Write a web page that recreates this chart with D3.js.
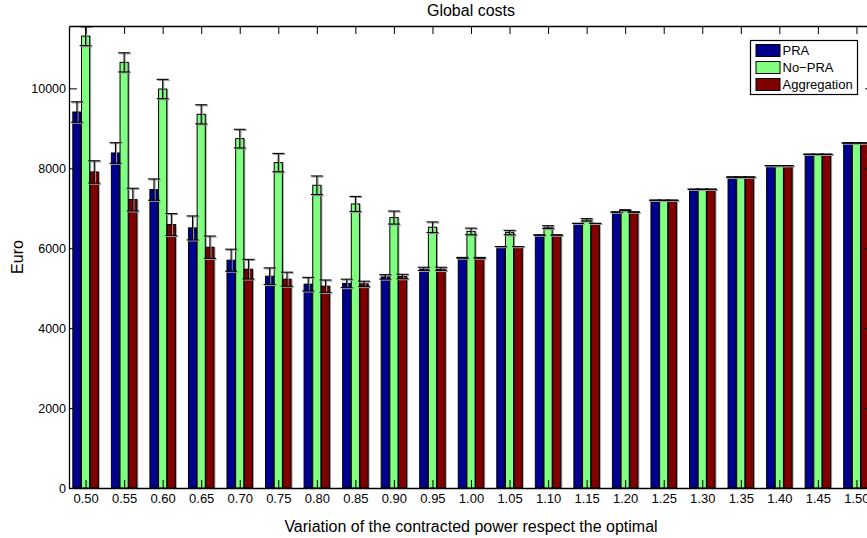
<!DOCTYPE html>
<html>
<head>
<meta charset="utf-8">
<script src="https://cdn.jsdelivr.net/npm/d3@7"></script>
<style>
  html, body { margin: 0; padding: 0; background: #fff; }
  svg { display: block; font-family: "Liberation Sans", Arial, Helvetica, sans-serif; }
</style>
</head>
<body>
<svg id="chart" width="867" height="538"></svg>
<script>
// ---- data ----
const categories = ["0.50","0.55","0.60","0.65","0.70","0.75","0.80","0.85","0.90","0.95","1.00",
                    "1.05","1.10","1.15","1.20","1.25","1.30","1.35","1.40","1.45","1.50"];
const seriesNames = ["PRA", "No\u2212PRA", "Aggregation"];
const praValues   = [9408, 8383, 7467, 6508, 5700, 5300, 5100, 5120, 5283, 5483, 5760, 6042, 6330, 6620, 6905, 7200, 7475, 7780, 8067, 8350, 8633];
const noPraValues = [11308, 10650, 9983, 9350, 8742, 8142, 7575, 7108, 6767, 6525, 6420, 6392, 6528, 6710, 6952, 7200, 7475, 7780, 8067, 8350, 8633];
const aggValues   = [7908, 7217, 6592, 6025, 5475, 5225, 5050, 5108, 5292, 5483, 5760, 6042, 6330, 6620, 6905, 7200, 7475, 7780, 8067, 8350, 8633];
const praErr      = [255, 258, 267, 300, 275, 208, 170, 105, 55, 40, 10, 0, 0, 0, 0, 0, 0, 0, 0, 0, 0];
const noPraErr    = [240, 240, 242, 240, 233, 230, 233, 188, 163, 133, 83, 55, 35, 30, 10, 0, 0, 0, 0, 0, 0];
const aggErr      = [280, 283, 275, 280, 245, 175, 155, 67, 55, 40, 10, 0, 0, 0, 0, 0, 0, 0, 0, 0, 0];
const yTicks = [0, 2000, 4000, 6000, 8000, 10000];
const colors = ["#00008f", "#80ff80", "#800000"];
const title = "Global costs";
const xLabel = "Variation of the contracted power respect the optimal";
const yLabel = "Euro";

const values = [praValues, noPraValues, aggValues];
const errors = [praErr, noPraErr, aggErr];

// ---- layout ----
const svg = d3.select("#chart");
const pLeft = 69, pRight = 873, pTop = 26, pBottom = 488;

const x = d3.scalePoint().domain(categories).range([pLeft, pRight]).padding(0.43);
const sub = d3.scaleBand().domain(d3.range(3)).range([-12.75, 12.75]).paddingInner(0.06);
const y = d3.scaleLinear().domain([0, 11560]).range([pBottom, pTop]);

// bars
const g = svg.append("g");
categories.forEach((c, i) => {
  for (let s = 0; s < 3; s++) {
    const bx = x(c) + sub(s);
    const bw = sub.bandwidth();
    const v = values[s][i];
    g.append("rect")
      .attr("x", bx + 1.5).attr("y", y(v))
      .attr("width", bw).attr("height", y(0) - y(v))
      .attr("fill", "#8a8a8a").attr("opacity", 0.75);
    g.append("rect")
      .attr("x", bx).attr("y", y(v))
      .attr("width", bw).attr("height", y(0) - y(v))
      .attr("fill", colors[s]).attr("stroke", "#000").attr("stroke-width", 1);
  }
});

// error bars
const eg = svg.append("g");
categories.forEach((c, i) => {
  for (let s = 0; s < 3; s++) {
    const cx = x(c) + sub(s) + sub.bandwidth() / 2;
    const v = values[s][i], e = errors[s][i];
    const hi = y(v + e), lo = y(v - e);
    const cw = 6;
    [["#999", 1, 1.2], ["#000", 0, 1.1]].forEach(([col, off, sw]) => {
      eg.append("line").attr("x1", cx + off).attr("x2", cx + off)
        .attr("y1", hi + off).attr("y2", lo + off).attr("stroke", col).attr("stroke-width", sw);
      eg.append("line").attr("x1", cx - cw + off).attr("x2", cx + cw + off)
        .attr("y1", hi + off).attr("y2", hi + off).attr("stroke", col).attr("stroke-width", sw);
      eg.append("line").attr("x1", cx - cw + off).attr("x2", cx + cw + off)
        .attr("y1", lo + off).attr("y2", lo + off).attr("stroke", col).attr("stroke-width", sw);
    });
  }
});

// axes
const axStyle = (size) => sel => {
  sel.select(".domain").attr("stroke", "#000").attr("stroke-width", 1.3);
  sel.selectAll(".tick line").attr("stroke", "#000").attr("stroke-width", 1);
  sel.selectAll(".tick text").attr("fill", "#000")
    .style("font-family", '"Liberation Sans", Arial, sans-serif').style("font-size", size);
};

svg.append("g").attr("transform", `translate(0,${pBottom})`)
  .call(d3.axisBottom(x).tickSizeInner(-8).tickSizeOuter(0).tickPadding(6))
  .call(axStyle("13px"));
svg.append("g").attr("transform", `translate(0,${pTop})`)
  .call(d3.axisTop(x).tickSizeInner(-8).tickSizeOuter(0).tickFormat(""))
  .call(axStyle("13px"));
svg.append("g").attr("transform", `translate(${pLeft},0)`)
  .call(d3.axisLeft(y).tickValues(yTicks).tickFormat(d3.format("d")).tickSizeInner(-8).tickSizeOuter(0).tickPadding(3))
  .call(axStyle("12.5px"));
svg.append("g").attr("transform", `translate(${pRight},0)`)
  .call(d3.axisRight(y).tickValues(yTicks).tickFormat("").tickSizeInner(-8).tickSizeOuter(0))
  .call(axStyle("12.5px"));

// titles
svg.append("text").attr("x", (pLeft + pRight) / 2).attr("y", 15.5)
  .attr("text-anchor", "middle").style("font-size", "16px").text(title);
svg.append("text").attr("x", (pLeft + pRight) / 2).attr("y", 531.5)
  .attr("text-anchor", "middle").style("font-size", "16px").text(xLabel);
svg.append("text").attr("transform", `translate(23,${(pTop + pBottom) / 2}) rotate(-90)`)
  .attr("text-anchor", "middle").style("font-size", "16px").text(yLabel);

// legend
const lg = svg.append("g");
lg.append("rect").attr("x", 750.5).attr("y", 40.5).attr("width", 107).attr("height", 54)
  .attr("fill", "#fff").attr("stroke", "#000").attr("stroke-width", 1.2);
seriesNames.forEach((n, s) => {
  const cy = 50.5 + s * 17;
  lg.append("rect").attr("x", 756).attr("y", cy - 6).attr("width", 24).attr("height", 12)
    .attr("fill", colors[s]).attr("stroke", "#000").attr("stroke-width", 1);
  lg.append("text").attr("x", 782.5).attr("y", cy).attr("dy", "0.36em")
    .style("font-size", "13px").text(n);
});
</script>
</body>
</html>
